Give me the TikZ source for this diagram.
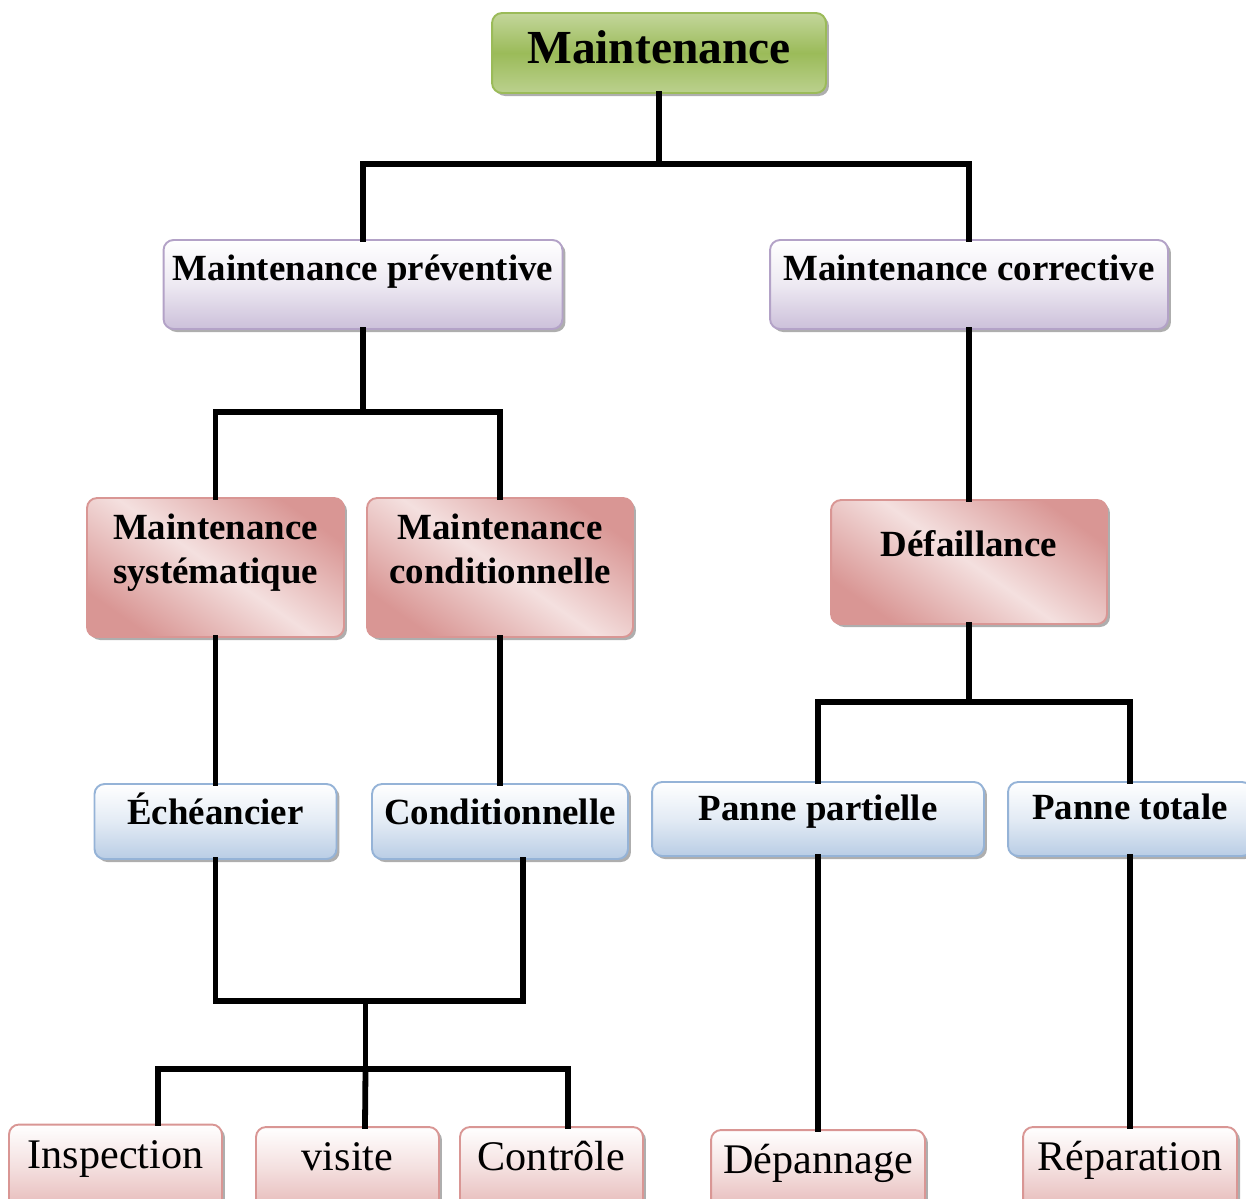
\documentclass[tikz,border=0pt]{standalone}
\usepackage{fontspec}
\setmainfont{Liberation Serif}
\usetikzlibrary{calc, positioning, shadows}
\definecolor{mygreenA}{HTML}{C3D69B}
\definecolor{mygreenB}{HTML}{9BBB59}
\definecolor{mypurple}{HTML}{CCC0DA}
\definecolor{mypurpleB}{HTML}{B3A2C7}
\definecolor{myblue}{HTML}{B9CDE5}
\definecolor{myblueB}{HTML}{95B3D7}
\definecolor{mypink}{HTML}{E6B9B8}
\definecolor{mypinkB}{HTML}{D99694}
\definecolor{mypinkL}{HTML}{F4E0DF}
\tikzset{>=stealth}

\begin{document}
\begin{tikzpicture}[
x=0.02cm, y=-0.02cm,
box/.style 2 args={
  draw,
  rounded corners=0.2cm,
  line width=1.1pt,
  minimum width=#1,
  minimum height=#2,
  drop shadow={shadow xshift=0.06cm, shadow yshift=-0.06cm, opacity=0.45, fill=black!70}
  },
greenbox/.style={draw=mygreenB, top color=mygreenA, bottom color=mygreenA!80!mygreenB, middle color=mygreenB},
purplebox/.style={draw=mypurpleB, top color=white, bottom color=mypurple, middle color=mypurple!35},
redbox/.style={draw=mypinkB, top color=mypinkB, bottom color=mypinkB, middle color=mypinkL, shading angle=-35},
bluebox/.style={draw=myblueB, top color=white, bottom color=myblue, middle color=myblue!40},
pinkbox/.style={draw=mypinkB, top color=white, bottom color=mypink, middle color=mypink!45},
lbl/.style={inner sep=0pt, font=\fontsize{24}{28}\selectfont},
lblB/.style={inner sep=0pt, align=center, font=\fontsize{21}{25}\selectfont\bfseries},
lblT/.style={inner sep=0pt, font=\fontsize{27}{32}\selectfont\bfseries},
link/.style={line width=3.3pt, line cap=rect}
]
\useasboundingbox (0,0) rectangle (1246,1198);
\clip (0,0) rectangle (1246,1198);

%the boxes
\node[box={6.68cm}{1.6cm}, greenbox] (top) at (659,53) {};
\node[box={7.98cm}{1.78cm}, purplebox] (prev) at (363,284.5) {};
\node[box={7.96cm}{1.78cm}, purplebox] (corr) at (969,284.5) {};
\node[box={5.14cm}{2.78cm}, redbox] (syst) at (215.5,567.5) {};
\node[box={5.32cm}{2.78cm}, redbox] (cond) at (500,567.5) {};
\node[box={5.52cm}{2.48cm}, redbox] (def) at (969,562) {};
\node[box={4.84cm}{1.5cm}, bluebox] (eche) at (215.5,821.5) {};
\node[box={5.12cm}{1.5cm}, bluebox] (condi) at (500,821.5) {};
\node[box={6.64cm}{1.48cm}, bluebox] (part) at (818,819) {};
\node[box={4.88cm}{1.48cm}, bluebox] (tot) at (1130,819) {};
\node[box={4.26cm}{1.7cm}, pinkbox] (insp) at (115.5,1167) {};
\node[box={3.66cm}{1.64cm}, pinkbox] (visite) at (347.5,1168) {};
\node[box={3.66cm}{1.64cm}, pinkbox] (ctrl) at (551.5,1168) {};
\node[box={4.28cm}{1.6cm}, pinkbox] (depan) at (818,1170) {};
\node[box={4.28cm}{1.64cm}, pinkbox] (repar) at (1130,1168) {};

%the texts
\node[lblT, anchor=base] (top-t) at (659,63) {Maintenance};
\node[lblB, anchor=base] (prev-t) at (363,280) {Maintenance préventive};
\node[lblB, anchor=base] (corr-t) at (969,280) {Maintenance corrective};
\node[lblB, anchor=north] (syst-t) at (215.5,514) {Maintenance\\systématique};
\node[lblB, anchor=north] (cond-t) at (500,514) {Maintenance\\conditionnelle};
\node[lblB, anchor=base] (def-t) at (969,556) {Défaillance};
\node[lblB, anchor=base] (eche-t) at (215.5,824) {Échéancier};
\node[lblB, anchor=base] (condi-t) at (500,824) {Conditionnelle};
\node[lblB, anchor=base] (part-t) at (818,820) {Panne partielle};
\node[lblB, anchor=base] (tot-t) at (1130,819) {Panne totale};
\node[lbl, anchor=base] (insp-t) at (115.5,1168) {Inspection};
\node[lbl, anchor=base] (visite-t) at (347.5,1170) {visite};
\node[lbl, anchor=base] (ctrl-t) at (551.5,1170) {Contrôle};
\node[lbl, anchor=base] (depan-t) at (818,1173) {Dépannage};
\node[lbl, anchor=base] (repar-t) at (1130,1170) {Réparation};

%the connectors
\draw[link] (top.south) -- ++(0,70) coordinate (j1);
\draw[link] (prev.north) |- (j1) -| (corr.north);
\draw[link] (prev.south) -- ++(0,82) coordinate (j2);
\draw[link] (syst.north) |- (j2) -| (cond.north);
\draw[link] (corr.south) -- (def.north);
\draw[link] (syst.south) -- (eche.north);
\draw[link] (cond.south) -- (condi.north);
\draw[link] (eche.south) -- ++(0,141) coordinate (j3) -| ([xshift=0.46cm]condi.south);
\draw[link] ($(j3)+(150,0)$) coordinate (j4) -- ++(0,68) coordinate (j5);
\draw[link] ([xshift=0.85cm]insp.north) |- (j5) -| ([xshift=0.33cm]ctrl.north);
\draw[link] (j5) -- ([xshift=0.35cm]visite.north);
\draw[link] (def.south) -- ++(0,77) coordinate (j6);
\draw[link] (part.north) |- (j6) -| (tot.north);
\draw[link] (part.south) -- (depan.north);
\draw[link] (tot.south) -- (repar.north);
\end{tikzpicture}
\end{document}
